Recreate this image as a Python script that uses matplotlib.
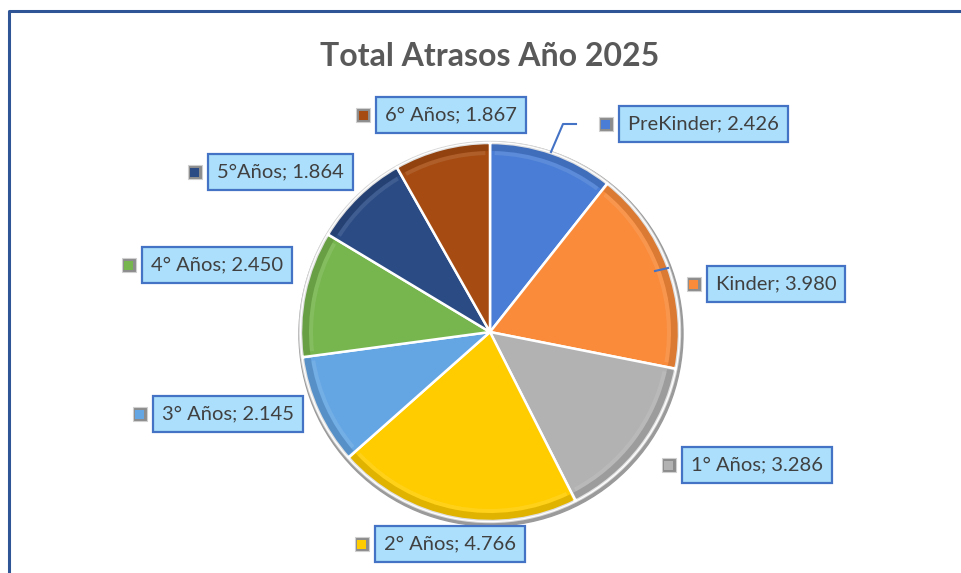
import numpy as np
import matplotlib.pyplot as plt
from matplotlib.patches import Wedge, Rectangle, Circle

# Atrasos por curso
cursos = ["PreKinder", "Kinder", "1° Años", "2° Años", "3° Años", "4° Años", "5°Años", "6° Años"]
atrasos = [2426, 3980, 3286, 4766, 2145, 2450, 1864, 1867]
colores = ["#4A7ED6", "#F98B3B", "#B2B2B2", "#FFCC00", "#64A5E3", "#77B64E", "#2B4B85", "#A64C12"]

# centros de las etiquetas (pixeles, origen arriba-izquierda)
pos_etiquetas = [(703, 124), (776, 284), (757, 465), (450, 544),
                 (228, 414), (217, 265), (280, 172), (451, 115)]

W, H = 961, 573
fig = plt.figure(figsize=(W / 100, H / 100), dpi=100)
ax = fig.add_axes([0, 0, 1, 1])
ax.set_xlim(0, W)
ax.set_ylim(0, H)
ax.set_aspect("equal")
ax.axis("off")

def fy(y):
    return H - y

# marco del grafico
ax.plot([9, 9, W], [0, fy(11), fy(11)], color="#2F5597", lw=2.2, solid_capstyle="butt")

ax.text(490, fy(57), "Total Atrasos Año 2025", ha="center", va="center",
        fontsize=23, fontweight="bold", color="#595959", family="Lato")

cx, cy, R = 490, fy(332), 189

# sombra / borde exterior
ax.add_patch(Circle((cx + 1, cy - 2), R + 3, color="#9a9a9a", zorder=1))
ax.add_patch(Circle((cx, cy), R + 1.5, color="#d9d9d9", zorder=1.5))

total = sum(atrasos)
ang = 90.0
for val, col in zip(atrasos, colores):
    span = 360.0 * val / total
    t1, t2 = ang - span, ang
    ax.add_patch(Wedge((cx, cy), R, t1, t2, facecolor=col, edgecolor="white", lw=1.8, zorder=2))
    # bisel: borde exterior mas oscuro y brillo interior
    ax.add_patch(Wedge((cx, cy), R, t1 + 0.6, t2 - 0.6, width=8, facecolor="black",
                       alpha=0.12, lw=0, zorder=3))
    ax.add_patch(Wedge((cx, cy), R - 8, t1 + 1.5, t2 - 1.5, width=4, facecolor="white",
                       alpha=0.10, lw=0, zorder=3))
    ang = t1

# etiquetas con clave de color
for nombre, val, col, (x, y) in zip(cursos, atrasos, colores, pos_etiquetas):
    txt = f"{nombre}; {val/1000:.3f}"
    t = ax.text(x, fy(y), txt, ha="center", va="center", fontsize=14.5, color="#404040",
                family="Lato", zorder=6,
                bbox=dict(boxstyle="square,pad=0.45", facecolor="#ABDFFB",
                          edgecolor="#4472C4", lw=1.6))
    fig.canvas.draw()
    bb = t.get_bbox_patch().get_window_extent().transformed(ax.transData.inverted())
    kx = bb.x0 - 20
    ky = (bb.y0 + bb.y1) / 2 - 7
    ax.add_patch(Rectangle((kx, ky), 14, 14, facecolor="#8c8c8c", edgecolor="#d0d0d0", lw=0.8, zorder=6))
    ax.add_patch(Rectangle((kx + 2.5, ky + 2.5), 9, 9, facecolor=col, lw=0, zorder=7))

# lineas guia
ax.plot([576, 563, 551], [fy(124), fy(124), fy(152)], color="#4472C4", lw=1.5, zorder=5)
ax.plot([655, 668], [fy(271), fy(268)], color="#4472C4", lw=1.5, zorder=5)

fig.savefig("out.png", dpi=100)
